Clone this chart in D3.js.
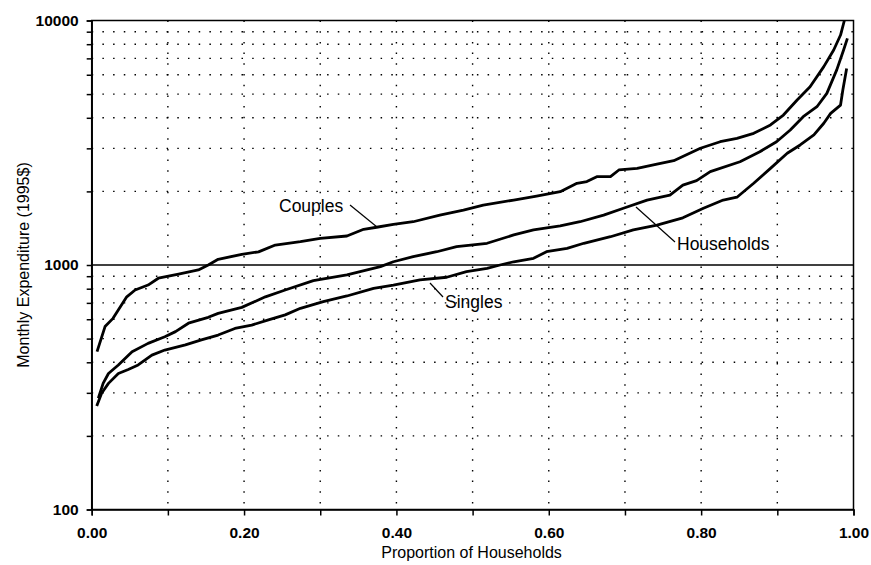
<!DOCTYPE html>
<html><head><meta charset="utf-8">
<script src="https://cdn.jsdelivr.net/npm/d3@7"></script>
<style>body{margin:0;background:#fff;} text{font-family:"Liberation Sans",Arial,sans-serif;fill:#000;}</style>
</head><body>
<svg id="c" width="871" height="565"></svg>
<script>
const couplesP = [0.007,0.0175,0.028,0.046,0.057,0.074,0.0875,0.114,0.14,0.153,0.166,0.197,0.219,0.241,0.274,0.300,0.335,0.357,0.374,0.396,0.422,0.457,0.488,0.514,0.554,0.584,0.615,0.637,0.650,0.663,0.681,0.692,0.716,0.742,0.764,0.799,0.825,0.847,0.869,0.891,0.908,0.926,0.943,0.961,0.974,0.983,0.988];
const couplesV = [442,560,605,741,790,828,883,918,955,1000,1055,1106,1132,1207,1245,1285,1314,1400,1427,1466,1503,1600,1678,1759,1843,1914,1994,2159,2193,2297,2297,2447,2485,2588,2671,3002,3193,3296,3455,3739,4106,4730,5362,6475,7576,8721,10000];
const householdsP = [0.0087,0.015,0.022,0.035,0.053,0.074,0.096,0.110,0.127,0.153,0.166,0.197,0.228,0.254,0.291,0.335,0.379,0.396,0.422,0.453,0.479,0.519,0.554,0.580,0.615,0.641,0.672,0.698,0.729,0.759,0.776,0.794,0.812,0.851,0.877,0.899,0.917,0.934,0.952,0.965,0.978,0.987,0.992];
const householdsV = [285,328,360,390,442,478,509,534,578,611,634,671,741,790,863,911,985,1031,1081,1133,1188,1227,1327,1391,1444,1503,1600,1706,1843,1933,2122,2212,2410,2645,2905,3193,3565,4043,4440,5035,6280,7576,8450];
const singlesP = [0.0066,0.013,0.022,0.035,0.048,0.061,0.079,0.096,0.123,0.144,0.166,0.188,0.210,0.232,0.254,0.274,0.304,0.335,0.370,0.396,0.431,0.466,0.492,0.519,0.536,0.554,0.580,0.597,0.624,0.646,0.681,0.711,0.742,0.776,0.803,0.829,0.847,0.869,0.891,0.913,0.930,0.948,0.961,0.970,0.983,0.986,0.991];
const singlesV = [265,299,328,360,374,390,428,449,471,494,517,550,568,596,625,665,708,747,803,828,869,891,940,968,1000,1031,1065,1133,1170,1227,1305,1391,1457,1560,1706,1843,1893,2159,2485,2864,3097,3404,3800,4170,4510,5200,6370];
const xTicks = [0,0.1,0.2,0.3,0.4,0.5,0.6,0.7,0.8,0.9,1.0];
const xTickLabels = ["0.00","","0.20","","0.40","","0.60","","0.80","","1.00"];
const yGrid = [200,300,400,500,600,700,800,900,2000,3000,4000,5000,6000,7000,8000,9000];
const yLabels = [100,1000,10000];
const seriesNames = ["Couples","Households","Singles"];

const svg = d3.select("#c");
const L=91.7, R=853.5, T=20.5, B=509.5;
const x = d3.scaleLinear().domain([0,1]).range([L,R]);
const y = d3.scaleLog().domain([100,10000]).range([B,T]);

// grid
const g = svg.append("g");
g.selectAll(".hg").data(yGrid).enter().append("line")
 .attr("x1",L).attr("x2",R).attr("y1",d=>y(d)).attr("y2",d=>y(d))
 .attr("stroke","#000").attr("stroke-width",1.4).attr("stroke-dasharray","1.5,9.2");
g.selectAll(".vg").data(xTicks.slice(1,-1)).enter().append("line")
 .attr("x1",d=>x(d)).attr("x2",d=>x(d)).attr("y1",T).attr("y2",B)
 .attr("stroke","#000").attr("stroke-width",1.4).attr("stroke-dasharray","1.5,9.2");
g.append("line").attr("x1",L).attr("x2",R).attr("y1",y(1000)).attr("y2",y(1000))
 .attr("stroke","#000").attr("stroke-width",1.3);

// frame
svg.append("rect").attr("x",L).attr("y",T).attr("width",R-L).attr("height",B-T)
 .attr("fill","none").attr("stroke","#000").attr("stroke-width",1.5);

// y axis
const yAxis = d3.axisLeft(y).tickValues([100,200,300,400,500,600,700,800,900,1000,2000,3000,4000,5000,6000,7000,8000,9000,10000])
 .tickSize(5).tickPadding(8).tickFormat(d=>yLabels.includes(d)?String(d):"");
const ya = svg.append("g").attr("transform",`translate(${L},0)`).call(yAxis);
ya.select(".domain").attr("stroke-width",1.5);
ya.selectAll(".tick line").attr("stroke-width",1.5);
ya.selectAll("text").attr("font-size","15.5px").attr("font-weight","bold").attr("font-family","Liberation Sans, Arial, sans-serif");

// x axis
const xAxis = d3.axisBottom(x).tickValues(xTicks).tickSize(6).tickPadding(11)
 .tickFormat((d,i)=>xTickLabels[i]);
const xa = svg.append("g").attr("transform",`translate(0,${B})`).call(xAxis);
xa.select(".domain").attr("stroke-width",1.5);
xa.selectAll(".tick line").attr("stroke-width",1.5);
xa.selectAll("text").attr("font-size","15.5px").attr("font-weight","bold").attr("font-family","Liberation Sans, Arial, sans-serif");

// titles
svg.append("text").attr("x",(L+R)/2-1).attr("y",558).attr("text-anchor","middle")
 .attr("font-size","16px").text("Proportion of Households");
svg.append("text").attr("transform",`translate(29,${(T+B)/2}) rotate(-90)`).attr("text-anchor","middle")
 .attr("font-size","16px").text("Monthly Expenditure (1995$)");

// lines
const line = d3.line().x(d=>x(d[0])).y(d=>y(d[1]));
const series = [d3.zip(couplesP,couplesV), d3.zip(householdsP,householdsV), d3.zip(singlesP,singlesV)];
svg.selectAll(".s").data(series).enter().append("path")
 .attr("d",line).attr("fill","none").attr("stroke","#000").attr("stroke-width",2.8)
 .attr("stroke-linejoin","round");

// labels with leaders
const lab = [
 {t:seriesNames[0], tx:279, ty:212, x1:350,y1:205, x2:377,y2:227},
 {t:seriesNames[1], tx:677, ty:250, x1:675,y1:242, x2:636,y2:207},
 {t:seriesNames[2], tx:445, ty:308, x1:443,y1:297, x2:430,y2:283}
];
lab.forEach(l=>{
 svg.append("line").attr("x1",l.x1).attr("y1",l.y1).attr("x2",l.x2).attr("y2",l.y2)
  .attr("stroke","#000").attr("stroke-width",1.2);
 svg.append("text").attr("x",l.tx).attr("y",l.ty).attr("font-size","17.5px").text(l.t);
});
</script>
</body></html>
